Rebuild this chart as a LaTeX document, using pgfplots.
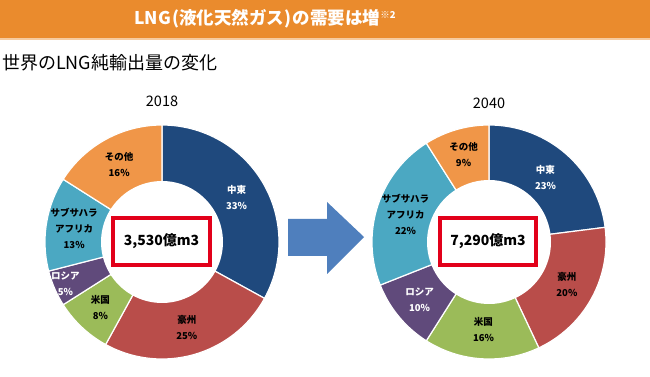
\documentclass[border=0pt]{standalone}
\usepackage{pgfplots}
\pgfplotsset{compat=1.18}
\usepackage{fontspec}
\setmainfont{Noto Sans CJK JP}
\definecolor{cME}{RGB}{31,73,125}
\definecolor{cAU}{RGB}{185,77,74}
\definecolor{cUS}{RGB}{155,187,89}
\definecolor{cRU}{RGB}{96,74,123}
\definecolor{cSS}{RGB}{75,168,194}
\definecolor{cOT}{RGB}{240,150,72}
\definecolor{hdr}{RGB}{234,139,45}
\definecolor{arr}{RGB}{79,127,189}
\definecolor{boxred}{RGB}{226,0,26}
% #1 centre x, #2 cumulative start %, #3 cumulative end %, #4 colour
\newcommand{\sector}[4]{%
  \addplot[fill=#4, draw=white, line width=1.2pt, domain={90-3.6*#3}:{90-3.6*#2}, samples=60, variable=\t]
    ({#1+117*cos(\t)},{135+117*sin(\t)}) -- (#1,135) -- cycle;}
% #1 centre x, #2 start, #3 end, #4 radius factor, #5 colour, #6 text
\newcommand{\lab}[6]{%
  \node[text=#5, align=center, font=\bfseries\fontsize{9.5}{16}\selectfont]
    at (axis cs:{#1+#4*117*cos(90-1.8*(#2+#3))},{135+#4*117*sin(90-1.8*(#2+#3))}) {#6};}
\begin{document}
\begin{tikzpicture}
\begin{axis}[width=650pt,height=377pt,scale only axis,xmin=0,xmax=650,ymin=0,ymax=377,hide axis,clip=false]
\fill[white] (0,0) rectangle (650,377);
\fill[hdr] (0,338) rectangle (650,377);
\fill[hdr!45] (0,337) rectangle (650,338.5);
\node[anchor=west, inner sep=0pt, text=white, font=\bfseries\fontsize{17.5}{18}\selectfont] at (134,358.5) {LNG\kern1.5pt(液化天然ガス)\kern1.5pt の需要は増\textsuperscript{\fontsize{9.5}{9}\selectfont ※2}};
\node[anchor=west, inner sep=0pt, font=\fontsize{18}{20}\selectfont] at (2,314) {世界のLNG純輸出量の変化};
\node[font=\fontsize{14.5}{16}\selectfont] at (162,276) {2018};
\node[font=\fontsize{14.5}{16}\selectfont] at (489,274) {2040};
% 2018: 33,25,8,5,13,16
\sector{162}{0}{33}{cME}
\sector{162}{33}{58}{cAU}
\sector{162}{58}{66}{cUS}
\sector{162}{66}{71}{cRU}
\sector{162}{71}{84}{cSS}
\sector{162}{84}{100}{cOT}
\addplot[fill=white, draw=none, domain=0:360, samples=90, variable=\t] ({162+61*cos(\t)},{135+61*sin(\t)});
% 2040: 23,20,16,10,22,9
\sector{489}{0}{23}{cME}
\sector{489}{23}{43}{cAU}
\sector{489}{43}{59}{cUS}
\sector{489}{59}{69}{cRU}
\sector{489}{69}{91}{cSS}
\sector{489}{91}{100}{cOT}
\addplot[fill=white, draw=none, domain=0:360, samples=90, variable=\t] ({489+62*cos(\t)},{135+62*sin(\t)});
% labels 2018
\lab{162}{0}{33}{0.74}{white}{中東\\33\%}
\lab{162}{33}{58}{0.76}{black}{豪州\\25\%}
\lab{162}{58}{66}{0.77}{black}{米国\\8\%}
\lab{162}{66}{71}{0.90}{white}{ロシア\\5\%}
\lab{162}{71}{84}{0.76}{black}{サブサハラ\\アフリカ\\13\%}
\lab{162}{84}{100}{0.76}{black}{その他\\16\%}
% labels 2040
\lab{489}{0}{23}{0.73}{white}{中東\\23\%}
\lab{489}{23}{43}{0.76}{black}{豪州\\20\%}
\lab{489}{43}{59}{0.75}{black}{米国\\16\%}
\lab{489}{59}{69}{0.77}{white}{ロシア\\10\%}
\lab{489}{69}{91}{0.75}{black}{サブサハラ\\アフリカ\\22\%}
\lab{489}{91}{100}{0.78}{black}{その他\\9\%}
% centre boxes
\draw[boxred, line width=3.5pt, fill=white] (113,112) rectangle (210,159);
\node[font=\bfseries\fontsize{14}{16}\selectfont] at (161.5,135.5) {3,530億m3};
\draw[boxred, line width=3.5pt, fill=white] (440,112) rectangle (536,159);
\node[font=\bfseries\fontsize{14}{16}\selectfont] at (488,135.5) {7,290億m3};
% arrow
\fill[arr] (288,158) -- (327,158) -- (327,175) -- (364,140) -- (327,103) -- (327,121) -- (288,121) -- cycle;
\end{axis}
\end{tikzpicture}
\end{document}
